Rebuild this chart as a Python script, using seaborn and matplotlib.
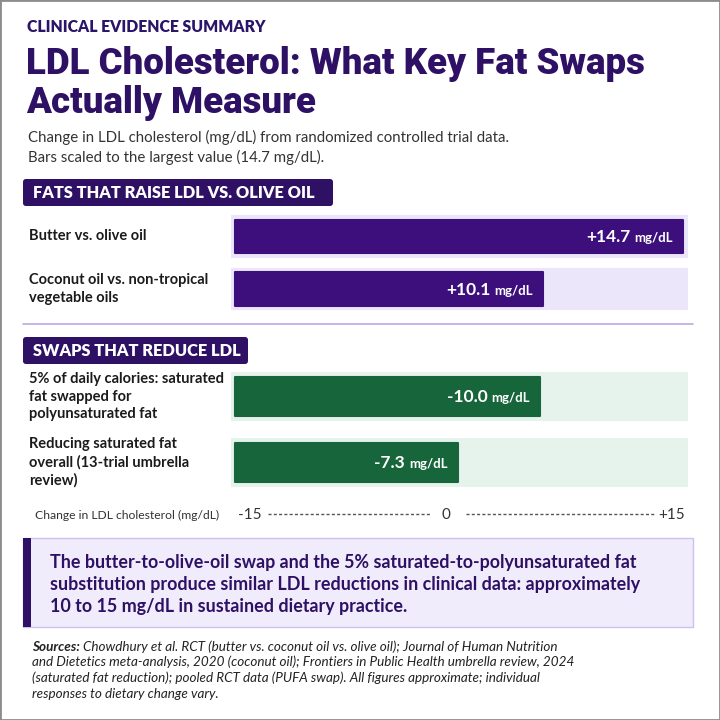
import seaborn as sns
import matplotlib.pyplot as plt
import pandas as pd
from matplotlib.patches import Rectangle, FancyBboxPatch
from matplotlib.lines import Line2D
from matplotlib.transforms import blended_transform_factory

# data
raise_labels = ['Butter vs. olive oil',
                'Coconut oil vs. non-tropical\nvegetable oils']
raise_values = [14.7, 10.1]
reduce_labels = ['5% of daily calories: saturated\nfat swapped for\npolyunsaturated fat',
                 'Reducing saturated fat\noverall (13-trial umbrella\nreview)']
reduce_values = [-10.0, -7.3]
scale_ticks = [-15, 0, 15]

W = H = 720
DARK = '#2e1065'


def fx(x):
    return x / W


def fy(y):
    return 1 - y / H


sns.set_theme(style='white')
plt.rcParams['font.family'] = ['Lato', 'DejaVu Sans']

fig = plt.figure(figsize=(7.2, 7.2), dpi=100)
fig.patch.set_facecolor('white')
renderer = fig.canvas.get_renderer()


def txt(x, y, s, **kw):
    kw.setdefault('va', 'baseline')
    kw.setdefault('ha', 'left')
    return fig.text(fx(x), fy(y), s, **kw)


# header
txt(27, 31.7, 'CLINICAL EVIDENCE SUMMARY', fontsize=11.3, fontweight='heavy', color='#2b1568')
title_font = ['Roboto', 'Lato', 'DejaVu Sans']
txt(26, 74, 'LDL Cholesterol: What Key Fat Swaps', fontsize=26.4, fontweight='black',
    color=DARK, family=title_font)
txt(26, 113, 'Actually Measure', fontsize=26.4, fontweight='black', color=DARK, family=title_font)
txt(28, 141.7, 'Change in LDL cholesterol (mg/dL) from randomized controlled trial data.',
    fontsize=10.8, color='#333333')
txt(28, 161.7, 'Bars scaled to the largest value (14.7 mg/dL).', fontsize=10.8, color='#333333')


def section_header(x0, x1, y0, y1, label):
    fig.add_artist(FancyBboxPatch((fx(x0), fy(y1)), (x1 - x0) / W, (y1 - y0) / H,
                                  boxstyle='round,pad=0,rounding_size=0.004',
                                  transform=fig.transFigure, facecolor=DARK, edgecolor='none'))
    txt(x0 + 10, (y0 + y1) / 2 + 6, label, fontsize=11.8, fontweight='heavy', color='white')


scale_max = max(abs(v) for v in raise_values + reduce_values)
lo, hi = -0.009 * scale_max, 1.011 * scale_max


def bar_section(labels, values, top, bottom, bar_color, track_color, bar_h, track_h):
    ax = fig.add_axes([fx(231), fy(bottom), (688 - 231) / W, (bottom - top) / H])
    df = pd.DataFrame({'label': labels, 'change': values,
                       'size': [abs(v) for v in values]})
    ax.barh(range(len(df)), hi - lo, left=lo, height=track_h, color=track_color, zorder=0)
    sns.barplot(data=df, x='size', y='label', orient='h', color=bar_color,
                saturation=1, width=bar_h, ax=ax, zorder=2)
    # soften the corners a little
    for p in ax.patches:
        p.set_edgecolor(p.get_facecolor())
        p.set_linewidth(1.5)
        p.set_joinstyle('round')
    ax.set_xlim(lo, hi)
    ax.set_ylim(len(df) - 0.5, -0.5)
    ax.axis('off')
    tr = blended_transform_factory(fig.transFigure, ax.transData)
    for i, row in df.iterrows():
        ax.text(fx(29), i, row['label'], transform=tr, ha='left', va='center',
                fontsize=10.5, fontweight='bold', color='#1b1b1b', linespacing=1.32)
        unit = ax.annotate('mg/dL', xy=(row['size'], i), xytext=(-10, -6),
                           textcoords='offset pixels', ha='right', va='baseline',
                           fontsize=9.5, fontweight='bold', color='white', zorder=3)
        w = unit.get_window_extent(renderer).width
        ax.annotate(f"{row['change']:+.1f}", xy=(row['size'], i), xytext=(-10 - w - 4, -6),
                    textcoords='offset pixels', ha='right', va='baseline',
                    fontsize=12.5, fontweight='bold', color='white', zorder=3)
    return ax


section_header(23, 333, 179, 206, 'FATS THAT RAISE LDL VS. OLIVE OIL')
bar_section(raise_labels, raise_values, 210.25, 315.25, '#3c0f7d', '#ece6fa', 0.63, 0.78)

fig.add_artist(Line2D([fx(23), fx(693)], [fy(324), fy(324)], color='#bba9e8', lw=1.2,
                      transform=fig.transFigure))

section_header(23, 248, 337, 364, 'SWAPS THAT REDUCE LDL')
bar_section(reduce_labels, reduce_values, 363.5, 495.5, '#17653a', '#e5f3ec', 0.59, 0.71)

# scale row
txt(35, 519, 'Change in LDL cholesterol (mg/dL)', fontsize=8.7, color='#333333')
tick_txt = [f'{t:+d}' if t else '0' for t in scale_ticks]
txt(238, 519, tick_txt[0], fontsize=11, color='#333333')
txt(446, 519, tick_txt[1], fontsize=11, color='#333333', ha='center')
txt(685, 519, tick_txt[2], fontsize=11, color='#333333', ha='right')
for a, b in [(268, 430), (466, 655)]:
    fig.add_artist(Line2D([fx(a), fx(b)], [fy(514), fy(514)], color='#555555', lw=1,
                          linestyle=(0, (2.2, 1.6)), transform=fig.transFigure))

# callout
fig.add_artist(Rectangle((fx(23), fy(627)), (693 - 23) / W, (627 - 538) / H,
                         transform=fig.transFigure, facecolor='#f0ecfb', edgecolor='#cdc2ef', lw=1))
fig.add_artist(Rectangle((fx(23), fy(627)), 8 / W, (627 - 538) / H,
                         transform=fig.transFigure, facecolor=DARK, edgecolor='none'))
callout = ['The butter-to-olive-oil swap and the 5% saturated-to-polyunsaturated fat',
           'substitution produce similar LDL reductions in clinical data: approximately',
           '10 to 15 mg/dL in sustained dietary practice.']
for k, line in enumerate(callout):
    txt(50, 568.3 + 21.7 * k, line, fontsize=12.85, fontweight='bold', color=DARK)

# sources
src = txt(32, 650.7, 'Sources:', fontsize=9.7, fontweight='bold', style='italic', color='#222222')
sw = src.get_window_extent(renderer).width
txt(32 + sw + 3, 650.7, 'Chowdhury et al. RCT (butter vs. coconut oil vs. olive oil); Journal of Human Nutrition',
    fontsize=9.7, style='italic', color='#222222')
src_lines = ['and Dietetics meta-analysis, 2020 (coconut oil); Frontiers in Public Health umbrella review, 2024',
             '(saturated fat reduction); pooled RCT data (PUFA swap). All figures approximate; individual',
             'responses to dietary change vary.']
for k, line in enumerate(src_lines):
    txt(32, 666.3 + 15.6 * k, line, fontsize=9.7, style='italic', color='#222222')

fig.add_artist(Rectangle((0, 0), 1, 1, transform=fig.transFigure, fill=False,
                         edgecolor='#8c8c8c', lw=2))

fig.savefig('out.png', dpi=100)
